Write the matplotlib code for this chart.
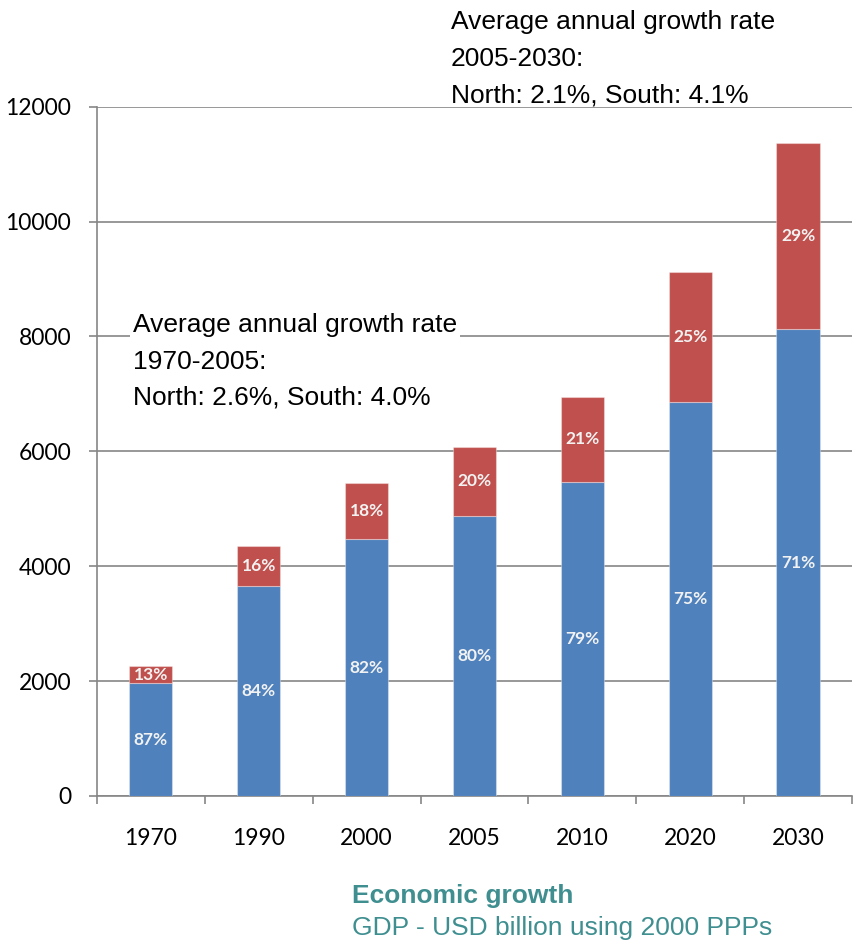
import matplotlib
matplotlib.use("Agg")
import matplotlib.pyplot as plt
import numpy as np

# GDP, USD billion (2000 PPPs)
years = ["1970", "1990", "2000", "2005", "2010", "2020", "2030"]
north = [1965, 3653, 4472, 4878, 5465, 6858, 8125]
south = [297, 697, 980, 1202, 1486, 2270, 3250]
y_ticks = [0, 2000, 4000, 6000, 8000, 10000, 12000]

note_past = "Average annual growth rate\n1970-2005:\nNorth: 2.6%, South: 4.0%"
note_future = "Average annual growth rate\n2005-2030:\nNorth: 2.1%, South: 4.1%"
title = "Economic growth"
subtitle = "GDP - USD billion using 2000 PPPs"

BLUE = "#4F81BD"
RED = "#C0504D"
GREY = "#868686"
TEAL = "#3F8E90"

fig = plt.figure(figsize=(8.54, 9.41), dpi=100)
ax = fig.add_axes([97 / 854, 145 / 941, 755 / 854, 689.3 / 941])

x = np.arange(len(years))
north_a = np.array(north, dtype=float)
south_a = np.array(south, dtype=float)
total = north_a + south_a

ax.bar(x, north_a, width=0.4, color=BLUE, edgecolor=(1, 1, 1, 0.35),
       linewidth=0.8, zorder=3)
ax.bar(x, south_a, width=0.4, bottom=north_a, color=RED,
       edgecolor=(1, 1, 1, 0.35), linewidth=0.8, zorder=3)

lab_kw = dict(ha="center", va="center", color="#F2F2F2", fontsize=12.5,
              fontweight="bold", family=["Lato", "DejaVu Sans"], zorder=4)
for i in range(len(years)):
    ax.text(x[i], north_a[i] / 2, f"{round(100 * north_a[i] / total[i])}%", **lab_kw)
    ax.text(x[i], north_a[i] + south_a[i] / 2,
            f"{round(100 * south_a[i] / total[i])}%", **lab_kw)

ax.set_xlim(-0.5, len(years) - 0.5)
ax.set_ylim(0, 12000)
ax.set_yticks(y_ticks)
ax.set_yticklabels([str(v) for v in y_ticks])
ax.yaxis.grid(True, color=GREY, linewidth=1.2, zorder=0)
ax.set_axisbelow(True)

ax.set_xticks(x)
ax.set_xticklabels(years)
ax.set_xticks(np.arange(-0.5, len(years) + 0.5, 1.0), minor=True)
ax.tick_params(axis="x", which="major", length=0, pad=23)
ax.tick_params(axis="x", which="minor", length=6, width=1.2, color=GREY)
ax.tick_params(axis="y", length=5.5, width=1.2, color=GREY, pad=13)
for lbl in ax.get_xticklabels() + ax.get_yticklabels():
    lbl.set_family(["Lato", "DejaVu Sans"])
    lbl.set_fontsize(16.5)
    lbl.set_color("black")

for side in ("top", "right"):
    ax.spines[side].set_visible(False)
for side in ("left", "bottom"):
    ax.spines[side].set_color(GREY)
    ax.spines[side].set_linewidth(1.2)

note_kw = dict(fontsize=19, family=["Liberation Sans", "DejaVu Sans"],
               color="black", linespacing=1.65, ha="left", va="baseline")
fig.text(133 / 854, 1 - 405 / 941, note_past,
         bbox=dict(facecolor="white", edgecolor="none", pad=2), zorder=5, **note_kw)
fig.text(451 / 854, 1 - 102 / 941, note_future, **note_kw)

fig.text(352 / 854, 1 - 903 / 941, title, fontsize=19, fontweight="bold",
         color=TEAL, family=["Liberation Sans", "DejaVu Sans"], va="baseline")
fig.text(352 / 854, 1 - 935 / 941, subtitle, fontsize=19,
         color=TEAL, family=["Liberation Sans", "DejaVu Sans"], va="baseline")

fig.savefig("out.png", dpi=100)
